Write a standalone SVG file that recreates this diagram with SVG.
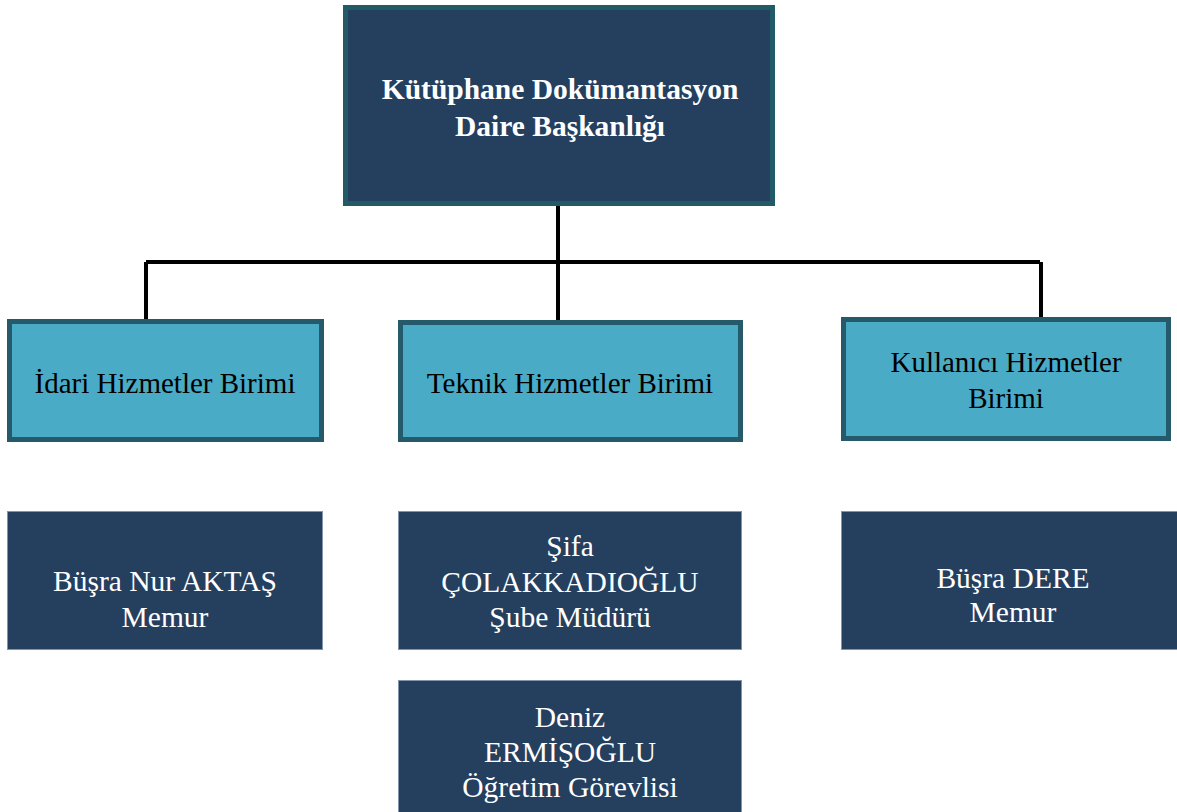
<svg xmlns="http://www.w3.org/2000/svg" width="1177" height="812" viewBox="0 0 1177 812">
<style>
.top{fill:#253f5f;stroke:#235a68;stroke-width:5}
.unit{fill:#4aabc6;stroke:#245a6a;stroke-width:5}
.person{fill:#253f5f;stroke:#8196ad;stroke-width:1}
.conn{fill:none;stroke:#000;stroke-width:4}
text{font-family:"Liberation Serif","Times New Roman",serif;text-anchor:middle}
.tt{fill:#fff;font-size:29.5px;font-weight:bold}
.ut{fill:#000;font-size:29px}
.pt{fill:#fff;font-size:29.5px}
</style>
<g id="connectors">
<path class="conn" d="M558,206 V262 M146,262 H1040 M146,262 V320 M558,262 V320 M1041,262 V317"/>
</g>
<g id="head">
<rect class="top" x="345.5" y="7.5" width="427" height="196"/>
<text class="tt" x="560" y="99">Kütüphane Dokümantasyon</text>
<text class="tt" x="560" y="136">Daire Başkanlığı</text>
</g>
<g id="idari">
<rect class="unit" x="9.5" y="321.5" width="312" height="118"/>
<text class="ut" x="165" y="393">İdari Hizmetler Birimi</text>
</g>
<g id="teknik">
<rect class="unit" x="400.5" y="322.5" width="340" height="117"/>
<text class="ut" x="570" y="393">Teknik Hizmetler Birimi</text>
</g>
<g id="kullanici">
<rect class="unit" x="843.5" y="319.5" width="325" height="119"/>
<text class="ut" x="1006" y="372">Kullanıcı Hizmetler</text>
<text class="ut" x="1006" y="408">Birimi</text>
</g>
<g id="aktas">
<rect class="person" x="7.5" y="511.5" width="315" height="138"/>
<text class="pt" x="165" y="591">Büşra Nur AKTAŞ</text>
<text class="pt" x="165" y="627">Memur</text>
</g>
<g id="colakkadioglu">
<rect class="person" x="398.5" y="511.5" width="343" height="138"/>
<text class="pt" x="570" y="556">Şifa</text>
<text class="pt" x="570" y="592">ÇOLAKKADIOĞLU</text>
<text class="pt" x="570" y="627">Şube Müdürü</text>
</g>
<g id="ermisoglu">
<rect class="person" x="398.5" y="680.5" width="343" height="140"/>
<text class="pt" x="570" y="727">Deniz</text>
<text class="pt" x="570" y="762">ERMİŞOĞLU</text>
<text class="pt" x="570" y="797">Öğretim Görevlisi</text>
</g>
<g id="dere">
<rect class="person" x="841.5" y="511.5" width="340" height="138"/>
<text class="pt" x="1013" y="588">Büşra DERE</text>
<text class="pt" x="1013" y="622">Memur</text>
</g>
</svg>
